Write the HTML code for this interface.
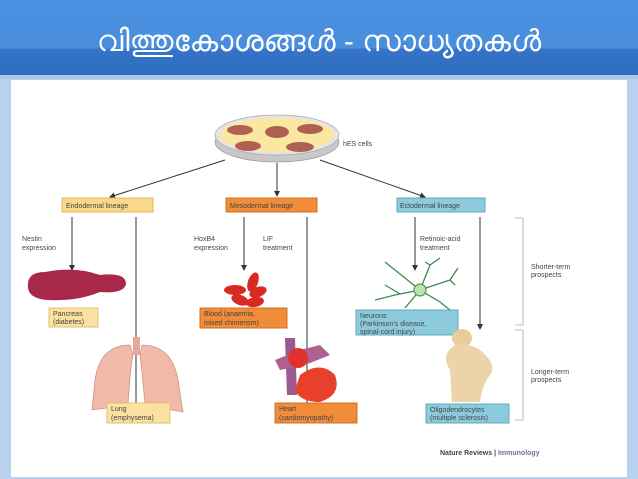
<!DOCTYPE html>
<html><head><meta charset="utf-8"><style>
html,body{margin:0;padding:0;width:638px;height:479px;overflow:hidden;background:#b9d0ee;font-family:"Liberation Sans",sans-serif}
#bar{position:absolute;left:0;top:0;width:638px;height:75px;background:linear-gradient(#4a90e0 0,#4a8edd 48px,#3574c8 49px,#2f6cc0 75px)}
#bar2{position:absolute;left:0;top:75px;width:638px;height:4px;background:#a9c6ec}
#title{position:absolute;left:0;top:25px;width:638px;text-align:center;color:#fff;font-size:30px;font-family:"Liberation Sans","DejaVu Sans",sans-serif;white-space:nowrap}
#panel{position:absolute;left:11px;top:80px;width:616px;height:397px;background:#fff}
svg{position:absolute;left:0;top:0}
text{font-family:"Liberation Sans",sans-serif;font-size:7px;fill:#444}
</style></head><body>
<div id="bar"></div><div id="bar2"></div>
<div id="title">വിത്തുകോശങ്ങൾ - സാധ്യതകൾ</div>
<div id="panel"></div>
<svg width="638" height="479" viewBox="0 0 638 479">
<defs><marker id="a" markerWidth="6" markerHeight="6" refX="5" refY="3" orient="auto"><path d="M0,0L6,3L0,6z" fill="#333"/></marker></defs>
<ellipse cx="277" cy="142" rx="62" ry="20" fill="#c8c8c8" stroke="#999" stroke-width="0.7"/>
<ellipse cx="277" cy="135" rx="62" ry="20" fill="#e4e4e4" stroke="#aaa" stroke-width="0.7"/>
<ellipse cx="277" cy="135" rx="57" ry="17" fill="#fbe8a0"/>
<g fill="#b06050"><ellipse cx="240" cy="130" rx="13" ry="5"/><ellipse cx="277" cy="132" rx="12" ry="6"/><ellipse cx="310" cy="129" rx="13" ry="5"/><ellipse cx="248" cy="146" rx="13" ry="5"/><ellipse cx="300" cy="147" rx="14" ry="5"/></g>
<text x="343" y="146" font-size="7.5">hES cells</text>
<g stroke="#333" stroke-width="1" marker-end="url(#a)" fill="none">
<line x1="225" y1="160" x2="110" y2="197"/><line x1="277" y1="163" x2="277" y2="196"/><line x1="320" y1="160" x2="425" y2="197"/>
<line x1="72" y1="217" x2="72" y2="270"/><line x1="136" y1="217" x2="136" y2="418"/>
<line x1="244" y1="217" x2="244" y2="270"/><line x1="307" y1="217" x2="307" y2="418"/>
<line x1="415" y1="217" x2="415" y2="270"/><line x1="480" y1="217" x2="480" y2="329"/>
</g>
<rect x="62" y="198" width="91" height="14" fill="#f8d98a" stroke="#e0b860"/><text x="66" y="208" font-size="7.5">Endodermal lineage</text>
<rect x="226" y="198" width="91" height="14" fill="#f08c3a" stroke="#d07020"/><text x="230" y="208" font-size="7.5">Mesodermal lineage</text>
<rect x="397" y="198" width="88" height="14" fill="#8ccbdc" stroke="#60a8c0"/><text x="400" y="208" font-size="7.5">Ectodermal lineage</text>
<text x="22" y="241">Nestin</text><text x="22" y="250">expression</text>
<text x="194" y="241">HoxB4</text><text x="194" y="250">expression</text>
<text x="263" y="241">LIF</text><text x="263" y="250">treatment</text>
<text x="420" y="241">Retinoic-acid</text><text x="420" y="250">treatment</text>
<path d="M28,288 Q26,272 45,272 Q75,266 100,275 Q126,272 126,284 Q124,294 100,292 Q80,300 60,300 Q30,302 28,288z" fill="#a8284a"/>
<rect x="49" y="308" width="49" height="19" fill="#fbe2a0" stroke="#e0c070"/><text x="53" y="316">Pancreas</text><text x="53" y="324">(diabetes)</text>
<g fill="#d82a20"><ellipse cx="235" cy="290" rx="11" ry="5"/><ellipse cx="253" cy="282" rx="5" ry="10" transform="rotate(20 253 282)"/><ellipse cx="258" cy="292" rx="9" ry="5" transform="rotate(-20 258 292)"/><ellipse cx="240" cy="300" rx="9" ry="5" transform="rotate(20 240 300)"/><ellipse cx="255" cy="302" rx="9" ry="5" transform="rotate(-10 255 302)"/></g>
<rect x="200" y="308" width="87" height="20" fill="#f08c3a" stroke="#d07020"/><text x="204" y="316">Blood (anaemia,</text><text x="204" y="325">mixed chimerism)</text>
<g stroke="#3a8a50" stroke-width="1.3" fill="none"><path d="M420,290 L395,295 L375,300 M400,294 L385,285 M420,290 L430,265 L440,258 M430,265 L425,262 M420,290 L450,280 L458,268 M450,280 L455,285 M420,290 L440,302 L450,310 M420,290 L405,308 M420,290 L395,270 L385,262"/></g>
<circle cx="420" cy="290" r="6" fill="#bde2a8" stroke="#3a8a50"/>
<rect x="356" y="310" width="102" height="25" fill="#8ccbdc" stroke="#60a8c0"/><text x="360" y="318">Neurons</text><text x="360" y="326">(Parkinson's disease,</text><text x="360" y="334">spinal-cord injury)</text>
<rect x="133" y="337" width="7" height="18" fill="#e8a898"/>
<path d="M130,345 Q100,345 95,380 L92,410 L128,405 Q130,370 133,355z" fill="#f2b8a8" stroke="#c08070" stroke-width="0.6"/>
<path d="M142,345 Q172,345 178,380 L183,412 L145,405 Q142,370 140,355z" fill="#f2b8a8" stroke="#c08070" stroke-width="0.6"/>
<rect x="107" y="403" width="63" height="20" fill="#fbe2a0" stroke="#e0c070"/><text x="111" y="411">Lung</text><text x="111" y="420">(emphysema)</text>
<path d="M285,338 L295,338 L297,395 L287,395z" fill="#9a5a90"/>
<path d="M275,360 L300,350 L320,345 L330,355 L305,365 L280,370z" fill="#b06090"/>
<circle cx="298" cy="358" r="10" fill="#e03030"/>
<path d="M300,375 Q320,360 335,375 Q342,395 320,402 Q300,402 295,390z" fill="#e8402a"/>
<rect x="275" y="403" width="82" height="20" fill="#f08c3a" stroke="#d07020"/><text x="279" y="411">Heart</text><text x="279" y="420">(cardiomyopathy)</text>
<ellipse cx="462" cy="338" rx="10" ry="9" fill="#e8cc9c"/>
<path d="M455,345 Q440,355 450,370 L452,402 L480,402 Q482,385 490,375 Q498,365 480,350 Q470,343 455,345z" fill="#ecd4a8"/>
<rect x="426" y="404" width="83" height="19" fill="#8ccbdc" stroke="#60a8c0"/><text x="430" y="412">Oligodendrocytes</text><text x="430" y="420">(multiple sclerosis)</text>
<path d="M515,218 L523,218 L523,325 L515,325 M515,330 L523,330 L523,420 L515,420" stroke="#aaa" fill="none" stroke-width="0.8"/>
<text x="531" y="269">Shorter-term</text><text x="531" y="277">prospects</text>
<text x="531" y="374">Longer-term</text><text x="531" y="382">prospects</text>
<text x="440" y="455" font-size="7.5" font-weight="bold" fill="#222">Nature Reviews | <tspan fill="#7a6aa0">Immunology</tspan></text>
</svg>
</body></html>
